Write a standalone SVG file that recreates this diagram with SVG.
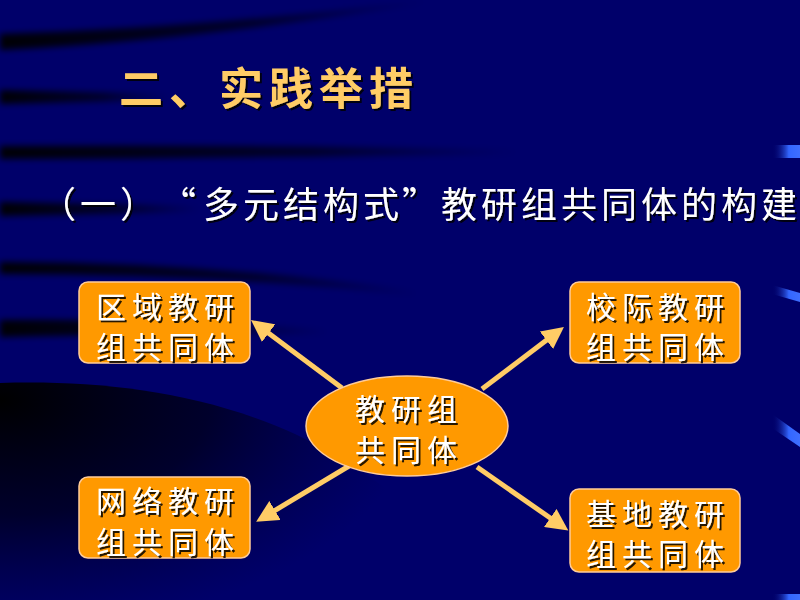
<svg xmlns="http://www.w3.org/2000/svg" width="800" height="600" viewBox="0 0 800 600">
<defs>
<style>
.title{font-family:"Noto Sans CJK SC","Noto Sans",sans-serif;font-weight:bold;font-size:44px;fill:#FFCC66;letter-spacing:6px}
.sub{font-family:"Noto Sans CJK SC","Noto Sans",sans-serif;font-size:36px;fill:#FFFFFF;letter-spacing:4px}
.q{letter-spacing:0}
.lbl{font-family:"Noto Sans CJK SC","Noto Sans",sans-serif;font-size:30px;fill:#FFFFFF;letter-spacing:6px;text-anchor:middle}
.box{fill:#FF9900;stroke:#FFCC99;stroke-width:1.5}
.arrow{stroke:#FFCC66;stroke-width:5;fill:none;marker-end:url(#ah)}
</style>
<filter id="sh" x="-10%" y="-10%" width="130%" height="140%">
<feDropShadow dx="2" dy="2" stdDeviation="0.6" flood-color="#000000" flood-opacity="0.85"/>
</filter>
<filter id="blur" x="-20%" y="-50%" width="140%" height="200%">
<feGaussianBlur stdDeviation="3"/>
</filter>
<marker id="ah" markerUnits="userSpaceOnUse" markerWidth="24" markerHeight="22" refX="7" refY="11" orient="auto">
<path d="M0,0 L22,11 L0,22 Z" fill="#FFCC66"/>
</marker>
<linearGradient id="fadeR" x1="0" y1="0" x2="1" y2="0">
<stop offset="0" stop-color="#000000" stop-opacity="0.95"/>
<stop offset="0.6" stop-color="#000000" stop-opacity="0.6"/>
<stop offset="1" stop-color="#000000" stop-opacity="0"/>
</linearGradient>
<radialGradient id="bigdark" cx="0" cy="400" r="420" gradientUnits="userSpaceOnUse" gradientTransform="translate(0,400) scale(1,0.55) translate(0,-400)">
<stop offset="0" stop-color="#000000" stop-opacity="1"/>
<stop offset="0.5" stop-color="#000011" stop-opacity="0.7"/>
<stop offset="1" stop-color="#000033" stop-opacity="0"/>
</radialGradient>
<linearGradient id="blueR" x1="0" y1="0" x2="1" y2="0">
<stop offset="0" stop-color="#000066" stop-opacity="0"/>
<stop offset="0.6" stop-color="#3366FF"/>
<stop offset="1" stop-color="#3F6FFF"/>
</linearGradient>
</defs>

<g id="background">
<rect x="0" y="0" width="800" height="600" fill="#00006A"/>
<path d="M0,34 Q200,28 430,0 L430,2 Q200,40 0,50 Z" fill="url(#fadeR)" filter="url(#blur)"/>
<path d="M0,90 L170,94 L170,100 L0,104 Z" fill="url(#fadeR)" filter="url(#blur)"/>
<path d="M0,146 Q250,144 520,150 L520,154 Q250,158 0,159 Z" fill="url(#fadeR)" filter="url(#blur)"/>
<path d="M0,202 L200,206 L200,212 L0,216 Z" fill="url(#fadeR)" filter="url(#blur)"/>
<path d="M0,262 Q220,262 420,292 L420,296 Q220,274 0,274 Z" fill="url(#fadeR)" filter="url(#blur)"/>
<path d="M0,320 Q150,318 330,330 L330,334 Q150,334 0,337 Z" fill="url(#fadeR)" filter="url(#blur)"/>
<path d="M0,383 C160,378 360,410 490,600 L0,600 Z" fill="url(#bigdark)"/>
<polygon points="772,145 800,145 800,158 772,158" fill="url(#blueR)"/>
<polygon points="772,285 800,293 800,302 772,294" fill="url(#blueR)"/>
<polygon points="772,414 800,434 800,447 772,428" fill="url(#blueR)"/>
<polygon points="772,594 800,594 800,600 772,600" fill="url(#blueR)"/>
</g>

<g id="title">
<text class="title" x="119" y="105" filter="url(#sh)">二、实践举措</text>
</g>
<g id="subtitle">
<text class="sub" y="218" filter="url(#sh)"><tspan x="40">（一）</tspan><tspan class="q" x="160">“</tspan><tspan x="203">多元结构式</tspan><tspan class="q" x="402">”</tspan><tspan x="441">教研组共同体的构建</tspan></text>
</g>

<g id="connectors">
<line class="arrow" x1="342" y1="388" x2="263" y2="329"/>
<line class="arrow" x1="482" y1="389" x2="552" y2="336"/>
<line class="arrow" x1="349" y1="466" x2="269" y2="514"/>
<line class="arrow" x1="477" y1="467" x2="556" y2="522"/>
</g>

<g id="center">
<ellipse cx="407" cy="426" rx="101" ry="50" class="box"/>
<text class="lbl" x="409" y="420" filter="url(#sh)">教研组</text>
<text class="lbl" x="409" y="461" filter="url(#sh)">共同体</text>
</g>

<g id="regional">
<rect x="79" y="282" width="171" height="81" rx="9" class="box"/>
<text class="lbl" x="168" y="318" filter="url(#sh)">区域教研</text>
<text class="lbl" x="168" y="358" filter="url(#sh)">组共同体</text>
</g>

<g id="interschool">
<rect x="570" y="282" width="170" height="81" rx="9" class="box"/>
<text class="lbl" x="658" y="318" filter="url(#sh)">校际教研</text>
<text class="lbl" x="658" y="358" filter="url(#sh)">组共同体</text>
</g>

<g id="network">
<rect x="79" y="477" width="171" height="81" rx="9" class="box"/>
<text class="lbl" x="168" y="512" filter="url(#sh)">网络教研</text>
<text class="lbl" x="168" y="553" filter="url(#sh)">组共同体</text>
</g>

<g id="base">
<rect x="570" y="489" width="170" height="83" rx="9" class="box"/>
<text class="lbl" x="658" y="525" filter="url(#sh)">基地教研</text>
<text class="lbl" x="658" y="565" filter="url(#sh)">组共同体</text>
</g>
</svg>
